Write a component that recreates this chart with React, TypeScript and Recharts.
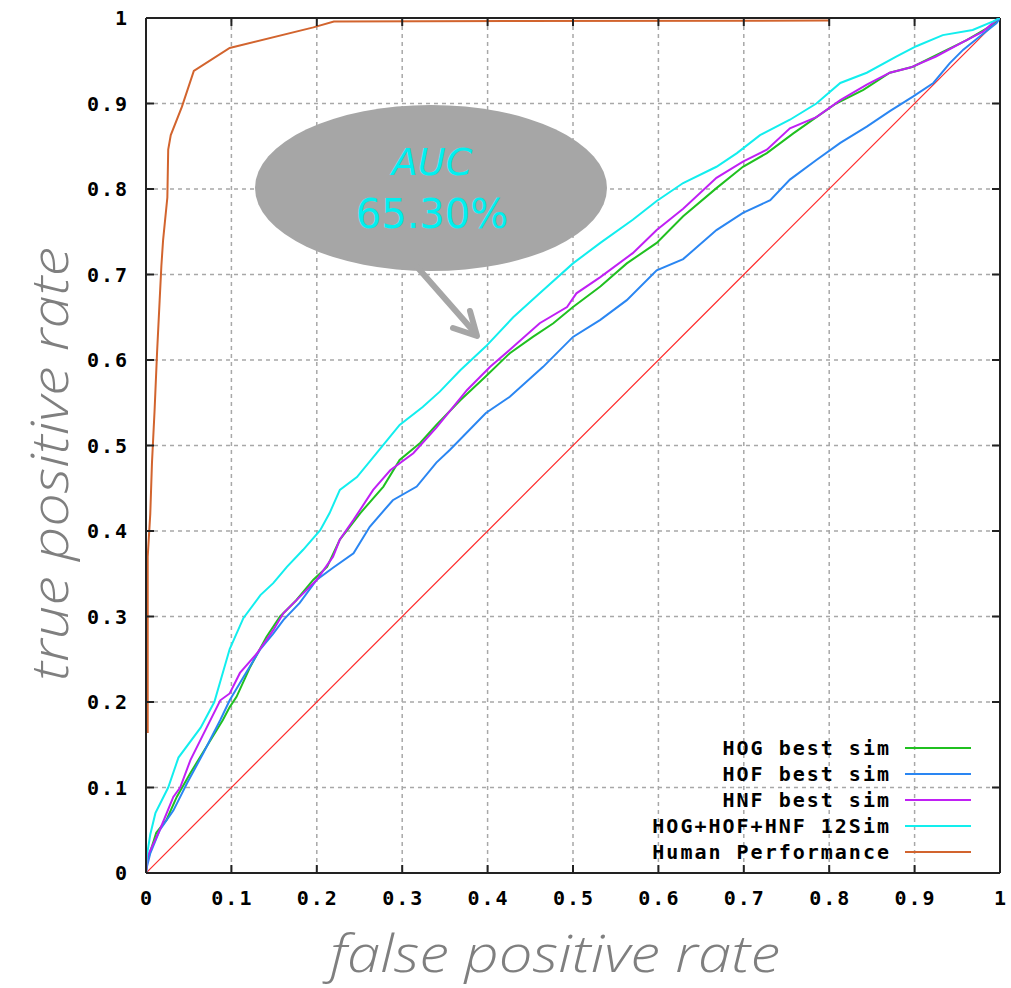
import React from 'react';
import { LineChart, Line, XAxis, YAxis, CartesianGrid, Legend, ReferenceLine } from 'recharts';

const xTicks = [0, 0.1, 0.2, 0.3, 0.4, 0.5, 0.6, 0.7, 0.8, 0.9, 1];
const yTicks = [0, 0.1, 0.2, 0.3, 0.4, 0.5, 0.6, 0.7, 0.8, 0.9, 1];
const xTickLabels = ['0', '0.1', '0.2', '0.3', '0.4', '0.5', '0.6', '0.7', '0.8', '0.9', '1'];
const yTickLabels = ['0', '0.1', '0.2', '0.3', '0.4', '0.5', '0.6', '0.7', '0.8', '0.9', '1'];

const seriesNames = ['HOG best sim', 'HOF best sim', 'HNF best sim', 'HOG+HOF+HNF 12Sim', 'Human Performance'];

const hogFpr = [0, 0.001, 0.012, 0.024, 0.036, 0.052, 0.071, 0.09, 0.098, 0.106, 0.122, 0.141, 0.157, 0.176, 0.196, 0.212, 0.227, 0.251, 0.278, 0.297, 0.321, 0.34, 0.368, 0.398, 0.426, 0.453, 0.477, 0.5, 0.532, 0.563, 0.598, 0.629, 0.668, 0.699, 0.727, 0.758, 0.785, 0.808, 0.84, 0.871, 0.898, 0.93, 0.961, 0.988, 1];
const hogTpr = [0, 0.012, 0.047, 0.062, 0.089, 0.117, 0.148, 0.179, 0.194, 0.206, 0.241, 0.276, 0.3, 0.319, 0.343, 0.358, 0.39, 0.421, 0.452, 0.483, 0.503, 0.524, 0.553, 0.581, 0.608, 0.627, 0.643, 0.662, 0.686, 0.713, 0.737, 0.768, 0.801, 0.826, 0.842, 0.865, 0.884, 0.9, 0.916, 0.936, 0.943, 0.959, 0.974, 0.99, 1];

const hofFpr = [0, 0.001, 0.005, 0.016, 0.032, 0.048, 0.067, 0.087, 0.098, 0.114, 0.134, 0.149, 0.161, 0.18, 0.2, 0.219, 0.243, 0.262, 0.289, 0.317, 0.34, 0.356, 0.398, 0.426, 0.465, 0.5, 0.532, 0.563, 0.598, 0.629, 0.668, 0.699, 0.731, 0.754, 0.785, 0.813, 0.844, 0.871, 0.898, 0.922, 0.941, 0.957, 0.977, 0.996, 1];
const hofTpr = [0, 0.007, 0.023, 0.05, 0.073, 0.105, 0.14, 0.179, 0.202, 0.229, 0.262, 0.28, 0.296, 0.316, 0.343, 0.357, 0.374, 0.405, 0.436, 0.452, 0.48, 0.495, 0.538, 0.557, 0.592, 0.627, 0.647, 0.67, 0.705, 0.718, 0.752, 0.772, 0.787, 0.811, 0.834, 0.854, 0.873, 0.891, 0.908, 0.924, 0.947, 0.963, 0.979, 0.994, 1];

const hnfFpr = [0, 0.002, 0.016, 0.032, 0.04, 0.052, 0.071, 0.087, 0.098, 0.11, 0.13, 0.149, 0.161, 0.18, 0.2, 0.219, 0.227, 0.243, 0.266, 0.286, 0.313, 0.34, 0.376, 0.403, 0.426, 0.461, 0.493, 0.504, 0.532, 0.57, 0.598, 0.629, 0.668, 0.699, 0.727, 0.754, 0.785, 0.813, 0.844, 0.871, 0.895, 0.925, 0.957, 0.98, 0.996, 1];
const hnfTpr = [0, 0.02, 0.05, 0.089, 0.1, 0.132, 0.17, 0.202, 0.21, 0.234, 0.257, 0.284, 0.304, 0.323, 0.343, 0.37, 0.39, 0.413, 0.448, 0.471, 0.491, 0.521, 0.565, 0.592, 0.612, 0.643, 0.662, 0.678, 0.697, 0.725, 0.752, 0.777, 0.813, 0.832, 0.846, 0.871, 0.884, 0.904, 0.922, 0.936, 0.942, 0.955, 0.972, 0.984, 0.998, 1];

const comboFpr = [0, 0.001, 0.005, 0.011, 0.026, 0.038, 0.064, 0.08, 0.098, 0.114, 0.134, 0.149, 0.165, 0.184, 0.204, 0.215, 0.227, 0.247, 0.27, 0.297, 0.324, 0.344, 0.368, 0.398, 0.43, 0.461, 0.5, 0.532, 0.57, 0.598, 0.629, 0.668, 0.692, 0.719, 0.754, 0.785, 0.813, 0.844, 0.879, 0.902, 0.933, 0.968, 0.992, 1];
const comboTpr = [0, 0.02, 0.045, 0.07, 0.1, 0.135, 0.17, 0.2, 0.262, 0.298, 0.325, 0.339, 0.358, 0.378, 0.401, 0.421, 0.448, 0.463, 0.491, 0.524, 0.545, 0.563, 0.588, 0.616, 0.65, 0.678, 0.713, 0.737, 0.764, 0.786, 0.807, 0.826, 0.842, 0.863, 0.881, 0.9, 0.924, 0.936, 0.955, 0.967, 0.98, 0.986, 0.996, 1];

const humanFpr = [0, 0.002, 0.002, 0.005, 0.007, 0.01, 0.013, 0.016, 0.018, 0.02, 0.022, 0.025, 0.026, 0.029, 0.042, 0.056, 0.098, 0.196, 0.22, 0.8];
const humanTpr = [0.165, 0.165, 0.37, 0.42, 0.48, 0.54, 0.61, 0.67, 0.71, 0.74, 0.76, 0.79, 0.846, 0.863, 0.896, 0.938, 0.965, 0.989, 0.996, 0.997];

const chanceFpr = [0, 1];
const chanceTpr = [0, 1];

const zip = (f: number[], t: number[]) => f.map((x, i) => ({ fpr: x, tpr: t[i] }));

const series = [
  { name: seriesNames[0], color: '#20c020', data: zip(hogFpr, hogTpr) },
  { name: seriesNames[1], color: '#2a86f2', data: zip(hofFpr, hofTpr) },
  { name: seriesNames[2], color: '#c020f4', data: zip(hnfFpr, hnfTpr) },
  { name: seriesNames[3], color: '#12eeee', data: zip(comboFpr, comboTpr) },
  { name: seriesNames[4], color: '#d2642e', data: zip(humanFpr, humanTpr) },
];

// plot frame (layout constants)
const PLOT = { left: 146, right: 1000, top: 18, bottom: 873 };
const TICK_LEN = 8;

const monoFont = '"DejaVu Sans Mono", monospace';
const labelStyle = { fontFamily: monoFont, fontWeight: 'bold' as const, fontSize: 20, fill: '#000', letterSpacing: 2 };
const frame = { stroke: '#222', strokeWidth: 2 };

const XTick = (props: any) => {
  const { x, y, index } = props;
  const inner = index > 0 && index < xTicks.length - 1;
  return (
    <g>
      {inner && <line x1={x} x2={x} y1={PLOT.bottom} y2={PLOT.bottom - TICK_LEN} stroke="#222" strokeWidth={2} />}
      {inner && <line x1={x} x2={x} y1={PLOT.top} y2={PLOT.top + TICK_LEN} stroke="#222" strokeWidth={2} />}
      <text x={x + 1} y={y} dy="0.71em" textAnchor="middle" style={labelStyle}>{xTickLabels[index]}</text>
    </g>
  );
};

const YTick = (props: any) => {
  const { x, y, index } = props;
  const inner = index > 0 && index < yTicks.length - 1;
  return (
    <g>
      {inner && <line x1={PLOT.left} x2={PLOT.left + TICK_LEN} y1={y} y2={y} stroke="#222" strokeWidth={2} />}
      {inner && <line x1={PLOT.right} x2={PLOT.right - TICK_LEN} y1={y} y2={y} stroke="#222" strokeWidth={2} />}
      <text x={x} y={y} dy="0.355em" textAnchor="end" style={labelStyle}>{yTickLabels[index]}</text>
    </g>
  );
};

const renderLegend = (props: any) => {
  const payload = (props.payload || [])
    .filter((p: any) => seriesNames.includes(p.value))
    .sort((a: any, b: any) => seriesNames.indexOf(a.value) - seriesNames.indexOf(b.value));
  return (
    <div style={{ fontFamily: monoFont, fontWeight: 'bold', fontSize: 20, letterSpacing: 2, color: '#000' }}>
      {payload.map((p: any) => (
        <div key={p.value} style={{ display: 'flex', alignItems: 'center', justifyContent: 'flex-end', height: 26 }}>
          <span style={{ whiteSpace: 'pre', lineHeight: '26px' }}>{p.value}</span>
          <span style={{ display: 'inline-block', width: 66, height: 2, background: p.color, marginLeft: 14 }} />
        </div>
      ))}
    </div>
  );
};

export default function App() {
  return (
    <div style={{ position: 'absolute', left: 0, top: 0, width: 1011, height: 988, background: '#fff' }}>
      <LineChart width={1011} height={988} margin={{ top: 18, right: 11, bottom: 75, left: 86 }}>
        <CartesianGrid xAxisId="b" yAxisId="l" stroke="#a8a8a8" strokeWidth={1.5} strokeDasharray="4 4" />
        <XAxis xAxisId="b" type="number" dataKey="fpr" domain={[0, 1]} ticks={xTicks} interval={0}
          tick={<XTick />} tickLine={false} tickSize={0} tickMargin={18} axisLine={frame} height={40} allowDataOverflow />
        <YAxis yAxisId="l" type="number" domain={[0, 1]} ticks={yTicks} interval={0}
          tick={<YTick />} tickLine={false} tickSize={0} tickMargin={17} axisLine={frame} width={60} allowDataOverflow />
        <ReferenceLine xAxisId="b" yAxisId="l" x={1} stroke="#222" strokeWidth={2} />
        <ReferenceLine xAxisId="b" yAxisId="l" y={1} stroke="#222" strokeWidth={2} />
        <Line xAxisId="b" yAxisId="l" data={zip(chanceFpr, chanceTpr)} dataKey="tpr" name="chance" legendType="none"
          type="linear" stroke="#ff2a2a" strokeWidth={1.2} dot={false} activeDot={false} isAnimationActive={false} />
        {series.map((s) => (
          <Line key={s.name} xAxisId="b" yAxisId="l" data={s.data} dataKey="tpr" name={s.name} type="linear"
            stroke={s.color} strokeWidth={2} dot={false} activeDot={false} isAnimationActive={false} />
        ))}
        <Legend content={renderLegend} layout="horizontal" verticalAlign="middle" align="center"
          wrapperStyle={{ left: 599, top: 735, width: 372, height: 130 }} />
      </LineChart>
      <svg width={1011} height={988} style={{ position: 'absolute', left: 0, top: 0, pointerEvents: 'none' }}>
        <ellipse cx={431} cy={188} rx={176} ry={83} fill="#a6a6a6" />
        <line x1={418} y1={268} x2={476} y2={334} stroke="#a6a6a6" strokeWidth={6} strokeLinecap="round" />
        <polyline points="453,328 477,336 470,311" fill="none" stroke="#a6a6a6" strokeWidth={6} strokeLinecap="round" strokeLinejoin="round" />
        <text x={432} y={175} textAnchor="middle" fontFamily='"DejaVu Sans", sans-serif' fontStyle="italic" fontSize={38} fill="#00f0f0">AUC</text>
        <text x={432} y={228} textAnchor="middle" fontFamily='"DejaVu Sans", sans-serif' fontSize={40} fill="#00f0f0">65.30%</text>
        <text x={555} y={972} textAnchor="middle" fontFamily='"Open Sans", sans-serif' fontStyle="italic" fontWeight={300}
          fontSize={52} fill="#7f7f7f" textLength={450} lengthAdjust="spacingAndGlyphs">false positive rate</text>
        <text x={68} y={464} textAnchor="middle" transform="rotate(-90 68 464)" fontFamily='"Open Sans", sans-serif' fontStyle="italic" fontWeight={300}
          fontSize={52} fill="#7f7f7f" textLength={434} lengthAdjust="spacingAndGlyphs">true positive rate</text>
      </svg>
    </div>
  );
}
